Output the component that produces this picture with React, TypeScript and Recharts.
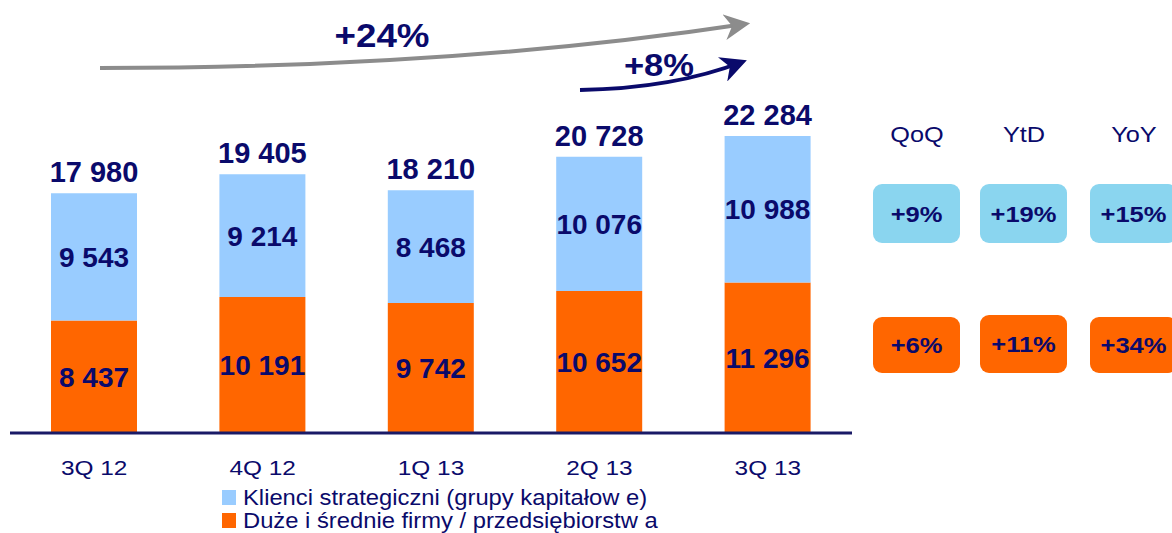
import { Bar, BarChart, LabelList, XAxis, YAxis } from "recharts";

const quarters = ["3Q 12", "4Q 12", "1Q 13", "2Q 13", "3Q 13"];
const midCompanies = [8437, 10191, 9742, 10652, 11296];
const strategicClients = [9543, 9214, 8468, 10076, 10988];
const totals = [17980, 19405, 18210, 20728, 22284];

const growthHeaders = ["QoQ", "YtD", "YoY"];
const strategicGrowth = ["+9%", "+19%", "+15%"];
const midGrowth = ["+6%", "+11%", "+34%"];

const legendLabels = ["Klienci strategiczni (grupy kapitałow e)", "Duże i średnie firmy / przedsiębiorstw a"];

const navy = "#0a0a6b";
const lightBlue = "#99ccff";
const orange = "#ff6600";
const badgeBlue = "#8ad5ef";
const font = "'Liberation Sans', Arial, sans-serif";

const data = quarters.map((q, i) => ({
  quarter: q,
  mid: midCompanies[i],
  strategic: strategicClients[i],
  total: totals[i],
}));

const fmt = (v: any) => String(v).replace(/\B(?=(\d{3})+(?!\d))/g, " ");

// wide text: the source deck stretches its plain labels horizontally
function WideText({ x, y, sx = 1.2, size, bold, children }: any) {
  return (
    <text
      transform={`translate(${x},${y}) scale(${sx},1)`}
      textAnchor="middle"
      fill={navy}
      fontSize={size}
      fontWeight={bold ? "bold" : "normal"}
      fontFamily={font}
    >
      {children}
    </text>
  );
}

function QuarterTick({ x, y, payload }: any) {
  return (
    <WideText x={x} y={y + 34} sx={1.22} size={20}>
      {payload.value}
    </WideText>
  );
}

function Badge({ x, y, w, h, fill, text }: any) {
  return (
    <g>
      <rect x={x} y={y} width={w} height={h} rx={9} fill={fill} />
      <WideText x={x + w / 2} y={y + h / 2 + 8} sx={1.16} size={22} bold>
        {text}
      </WideText>
    </g>
  );
}

export default function App() {
  const colX = [873, 980, 1090];
  const legendColors = [lightBlue, orange];
  return (
    <div style={{ position: "absolute", left: 0, top: 0, width: 1172, height: 533, background: "#fff", overflow: "hidden" }}>
      <BarChart width={1172} height={533} data={data} margin={{ top: 33, right: 320, bottom: 70, left: 10 }} barSize={86}>
        <XAxis
          dataKey="quarter"
          axisLine={{ stroke: "#1a1a66", strokeWidth: 3 }}
          tickLine={false}
          tick={<QuarterTick />}
          interval={0}
        />
        <YAxis hide domain={[0, 30000]} />
        <Bar dataKey="mid" stackId="a" fill={orange} isAnimationActive={false}>
          <LabelList dataKey="mid" position="center" formatter={fmt} fill={navy} fontSize={28} fontWeight="bold" fontFamily={font} />
        </Bar>
        <Bar dataKey="strategic" stackId="a" fill={lightBlue} isAnimationActive={false}>
          <LabelList dataKey="strategic" position="center" formatter={fmt} fill={navy} fontSize={28} fontWeight="bold" fontFamily={font} />
          <LabelList dataKey="total" position="top" offset={11} formatter={fmt} fill={navy} fontSize={29} fontWeight="bold" fontFamily={font} />
        </Bar>
      </BarChart>
      <div style={{ position: "absolute", left: 222, top: 486, fontFamily: font, fontSize: 22, color: navy, lineHeight: "23px" }}>
        {legendLabels.map((label, i) => (
          <div key={label} style={{ display: "flex", alignItems: "center", height: 23 }}>
            <span style={{ width: 14, height: 15, background: legendColors[i], marginRight: 7, display: "inline-block", flex: "none" }} />
            <span style={{ display: "inline-block", transform: "scaleX(1.08)", transformOrigin: "left center", whiteSpace: "nowrap" }}>{label}</span>
          </div>
        ))}
      </div>
      <svg width={1172} height={533} style={{ position: "absolute", left: 0, top: 0, pointerEvents: "none" }}>
        <defs>
          <marker id="grayHead" viewBox="0 0 10 10" refX="8" refY="5" markerWidth="6.5" markerHeight="6.5" orient="auto" markerUnits="strokeWidth">
            <path d="M0,0 L10,5 L0,10 L3,5 z" fill="#8c8c8c" />
          </marker>
          <marker id="navyHead" viewBox="0 0 10 10" refX="8" refY="5" markerWidth="6.5" markerHeight="6.5" orient="auto" markerUnits="strokeWidth">
            <path d="M0,0 L10,5 L0,10 L3,5 z" fill={navy} />
          </marker>
        </defs>
        <path d="M100,68 C350,68 560,52 745,24" stroke="#8c8c8c" strokeWidth={4} fill="none" markerEnd="url(#grayHead)" />
        <WideText x={382} y={47} sx={1.08} size={34} bold>+24%</WideText>
        <path d="M580,90 C640,89 695,80 742,62" stroke={navy} strokeWidth={4} fill="none" markerEnd="url(#navyHead)" />
        <WideText x={659} y={76} sx={1.08} size={32} bold>+8%</WideText>
        {growthHeaders.map((h, i) => (
          <WideText key={h} x={colX[i] + 44} y={142} sx={1.15} size={22}>{h}</WideText>
        ))}
        {strategicGrowth.map((t, i) => (
          <Badge key={"s" + i} x={colX[i]} y={184} w={87} h={59} fill={badgeBlue} text={t} />
        ))}
        {midGrowth.map((t, i) => (
          <Badge key={"m" + i} x={colX[i]} y={i === 1 ? 315 : 317} w={87} h={i === 1 ? 58 : 56} fill={orange} text={t} />
        ))}
      </svg>
    </div>
  );
}
